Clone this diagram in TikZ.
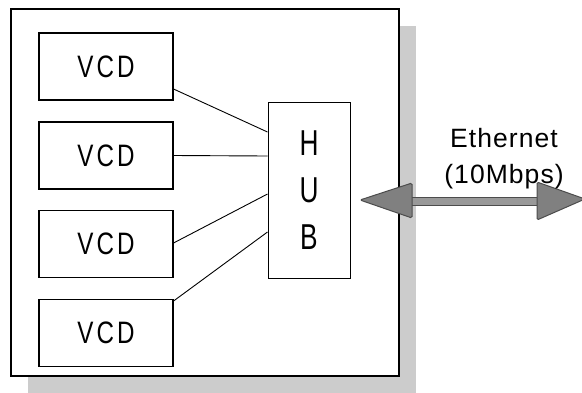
\documentclass[tikz,border=0pt]{standalone}
\usepackage{fontspec}
\newfontfamily\vcdfont[FakeStretch=0.78,LetterSpace=10]{Liberation Sans}
\newfontfamily\hubfont[FakeStretch=0.73]{Liberation Sans}
\newfontfamily\netfont[LetterSpace=4]{Liberation Sans}
\definecolor{shadowgray}{gray}{0.80}
\definecolor{headgray}{gray}{0.50}
\definecolor{shaftgray}{gray}{0.60}
\definecolor{edgegray}{gray}{0.30}
\tikzset{
  device/.style={draw, line width=1.1pt, minimum width=134pt, minimum height=67pt,
    inner sep=0pt, font=\vcdfont\fontsize{31}{31}\selectfont},
  hubbox/.style={draw, line width=1pt, minimum width=82pt, minimum height=176pt,
    inner sep=0pt, align=center, font=\hubfont\fontsize{36}{47}\selectfont},
  cable/.style={line width=0.9pt},
  netlabel/.style={anchor=base, inner sep=0pt, font=\netfont\fontsize{26.5}{30}\selectfont}
}
\begin{document}
\begin{tikzpicture}[x=1pt,y=-1pt]
\useasboundingbox (0,0) rectangle (582,392);

% drop shadow of the enclosure
\fill[shadowgray] (28,26) rectangle (416,400);
% enclosure
\node[draw, line width=1.4pt, fill=white, minimum width=388pt, minimum height=367pt,
  inner sep=0pt] (box) at (205,192.5) {};

% video CD players
\node[device] (v1) at (106,66.5) {VCD};
\node[device] (v2) at (106,155.5) {VCD};
\node[device] (v3) at (106,244) {VCD};
\node[device] (v4) at (106,333) {VCD};

% hub
\node[hubbox] (hub) at (309,190) {H\\U\\B};

% cables from each player to the hub
\draw[cable] ([yshift=-22.5pt]v1.east) -- ([yshift=58pt]hub.west);
\draw[cable] (v2.east) -- ([yshift=34pt]hub.west);
\draw[cable] ([yshift=1pt]v3.east) -- ([yshift=-4pt]hub.west);
\draw[cable] ([yshift=32pt]v4.east) -- ([yshift=-42pt]hub.west);

% Ethernet link
\coordinate (lt) at (360,200);
\coordinate (rt) at (585,199);
\draw[edgegray, line width=1pt, fill=shaftgray] (410,197) rectangle (540,205);
\draw[edgegray, line width=1pt, fill=headgray, rounded corners=1.5pt]
  (lt) -- (412,183) -- (412,218) -- cycle;
\draw[edgegray, line width=1pt, fill=headgray, rounded corners=1.5pt]
  (rt) -- (537,220) -- (537,182) -- cycle;

\node[netlabel] (eth) at (504,147) {Ethernet};
\node[netlabel] (rate) at (504,183.5) {(10Mbps)};
\end{tikzpicture}
\end{document}
